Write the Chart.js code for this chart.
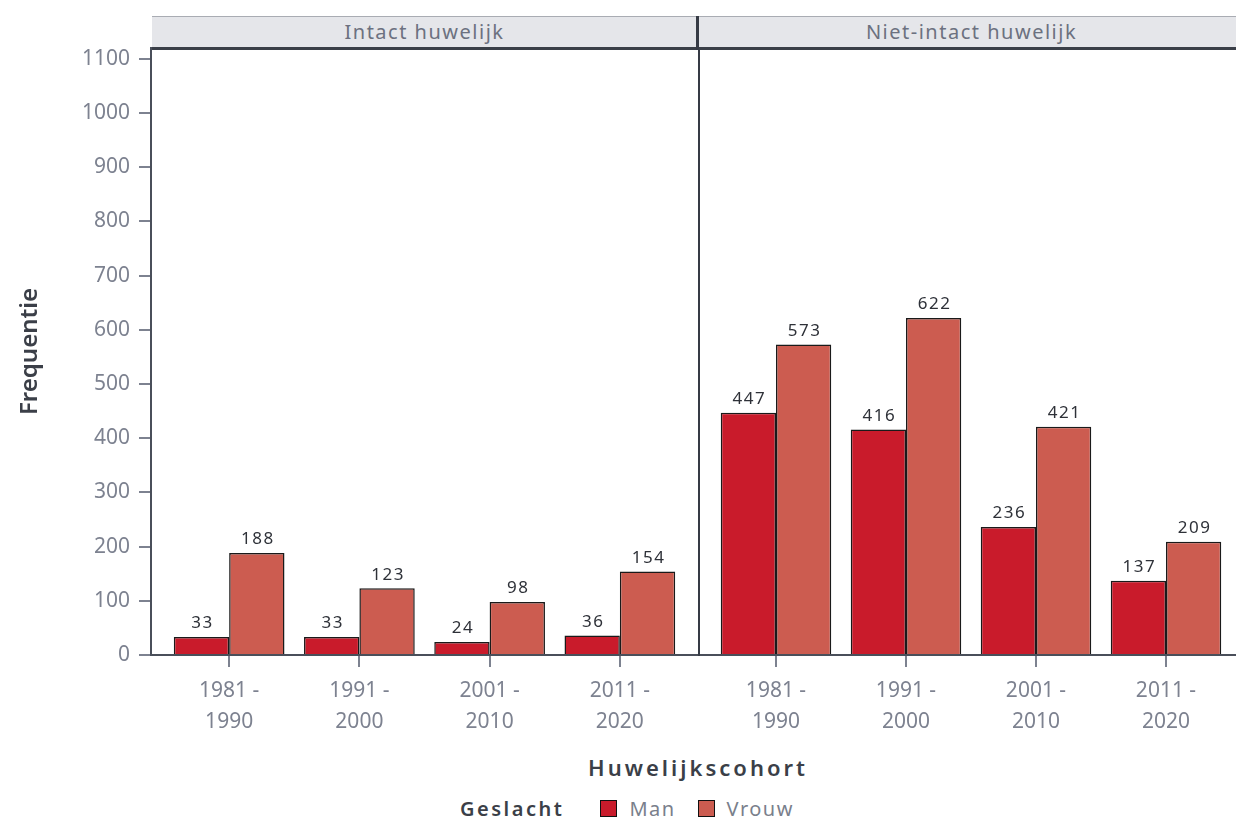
<!DOCTYPE html>
<html lang="nl">
<head>
<meta charset="UTF-8">
<title>Huwelijkscohort per geslacht</title>
<script src="https://cdn.jsdelivr.net/npm/chart.js"></script>
<style>
  body { margin: 0; width: 1236px; height: 821px; overflow: hidden; background: #fff; font-family: "Noto Sans", sans-serif; }
  .wrap { position: absolute; top: 0; height: 740px; }
  .strip { position: absolute; top: 16px; height: 30px; background: #e5e6ea; border-top: 1px solid #a9acb3;
           border-bottom: 3px solid #3a3f48; color: #6c7180; font-size: 20px; line-height: 30px; text-align: center; letter-spacing: 1.5px; }
  .sep { position: absolute; left: 696px; top: 16px; width: 3px; height: 34px; background: #363b45; }
  .xtitle { position: absolute; top: 752px; left: 152px; width: 1092px; text-align: center; font-size: 22px;
            font-weight: 600; color: #3b3f48; letter-spacing: 3px; }
  .legend { position: absolute; top: 795px; left: 460px; font-size: 20px; color: #7a7f8c; display: flex; align-items: center; letter-spacing: 1.5px; }
  .legend b { color: #3b3f48; font-weight: 600; margin-right: 36px; letter-spacing: 2.5px; }
  .legend i { display: inline-block; width: 15px; height: 15px; border: 1.5px solid #111; margin-right: 12px; }
  .legend span { margin-right: 22px; }
</style>
</head>
<body>

<div class="wrap" style="left:0;width:698px"><canvas id="left"></canvas></div>
<div class="wrap" style="left:698px;width:546px"><canvas id="right"></canvas></div>
<div class="strip" style="left:152px;width:545px">Intact huwelijk</div>
<div class="strip" style="left:699px;width:545px">Niet-intact huwelijk</div>
<div class="sep"></div>
<div class="xtitle">Huwelijkscohort</div>
<div class="legend"><b>Geslacht</b><i style="background:#c91b2b"></i><span>Man</span><i style="background:#cc5c50"></i><span>Vrouw</span></div>

<script>
// cohorten (twee regels per label)
const cohorts = [['1981 -', '1990'], ['1991 -', '2000'], ['2001 -', '2010'], ['2011 -', '2020']];
const intactMan = [33, 33, 24, 36];
const intactVrouw = [188, 123, 98, 154];
const nietIntactMan = [447, 416, 236, 137];
const nietIntactVrouw = [573, 622, 421, 209];
const yTicks = [0, 100, 200, 300, 400, 500, 600, 700, 800, 900, 1000, 1100];

const manColor = '#c91b2b';
const vrouwColor = '#cc5c50';
const axisColor = '#4a4f5a';
const tickColor = '#7d8290';

// waarde boven elke staaf
const valueLabels = {
  id: 'valueLabels',
  afterDatasetsDraw(chart) {
    const ctx = chart.ctx;
    ctx.save();
    ctx.font = '17px "Noto Sans"';
    ctx.letterSpacing = '1.5px';
    ctx.fillStyle = '#2e3138';
    ctx.textAlign = 'center';
    ctx.textBaseline = 'bottom';
    chart.data.datasets.forEach((ds, i) => {
      chart.getDatasetMeta(i).data.forEach((bar, j) => {
        ctx.fillText(ds.data[j].y, bar.x + 1, bar.y - 5);
      });
    });
    ctx.restore();
  }
};

function makeChart(id, man, vrouw, showY) {
  const toPoints = arr => arr.map((v, i) => ({ x: i + 1, y: v }));
  return new Chart(document.getElementById(id), {
    type: 'bar',
    data: {
      datasets: [
        { label: 'Man', data: toPoints(man), backgroundColor: manColor, borderColor: '#1a1a1a', borderWidth: 1.5 },
        { label: 'Vrouw', data: toPoints(vrouw), backgroundColor: vrouwColor, borderColor: '#1a1a1a', borderWidth: 1.5 }
      ]
    },
    options: {
      responsive: true,
      maintainAspectRatio: false,
      animation: false,
      categoryPercentage: 0.85,
      barPercentage: 1.0,
      layout: { padding: { left: 0, right: 0, top: 48, bottom: 0 } },
      plugins: { legend: { display: false }, tooltip: { enabled: false } },
      scales: {
        x: {
          type: 'linear',
          min: 0.4,
          max: 4.6,
          offset: false,
          afterBuildTicks: axis => { axis.ticks = cohorts.map((c, i) => ({ value: i + 1 })); },
          afterFit: axis => { axis.height = 85; },
          grid: { offset: false, drawOnChartArea: false, drawTicks: true, tickLength: 12, color: tickColor, lineWidth: 2 },
          border: { color: axisColor, width: 2 },
          ticks: {
            color: tickColor,
            padding: 8,
            maxRotation: 0,
            font: { family: 'Noto Sans', size: 21, lineHeight: 1.5 },
            callback: v => cohorts[Math.round(v) - 1]
          }
        },
        y: {
          min: 0,
          max: 1120,
          afterBuildTicks: axis => { axis.ticks = yTicks.map(v => ({ value: v })); },
          afterFit: axis => { axis.width = showY ? 151 : 0; },
          grid: { drawOnChartArea: false, drawTicks: showY, tickLength: 12, color: tickColor, lineWidth: 2 },
          border: { color: showY ? axisColor : '#363b45', width: showY ? 2 : 3 },
          ticks: { display: showY, color: tickColor, padding: 9, font: { family: 'Noto Sans', size: 21 }, callback: v => String(v) },
          title: {
            display: showY,
            text: 'Frequentie',
            color: '#3b3f48',
            padding: { top: 16, bottom: 0 },
            font: { family: 'Noto Sans', size: 24, weight: '600' }
          }
        }
      }
    },
    plugins: [valueLabels]
  });
}

makeChart('left', intactMan, intactVrouw, true);
makeChart('right', nietIntactMan, nietIntactVrouw, false);
</script>

</body>
</html>
